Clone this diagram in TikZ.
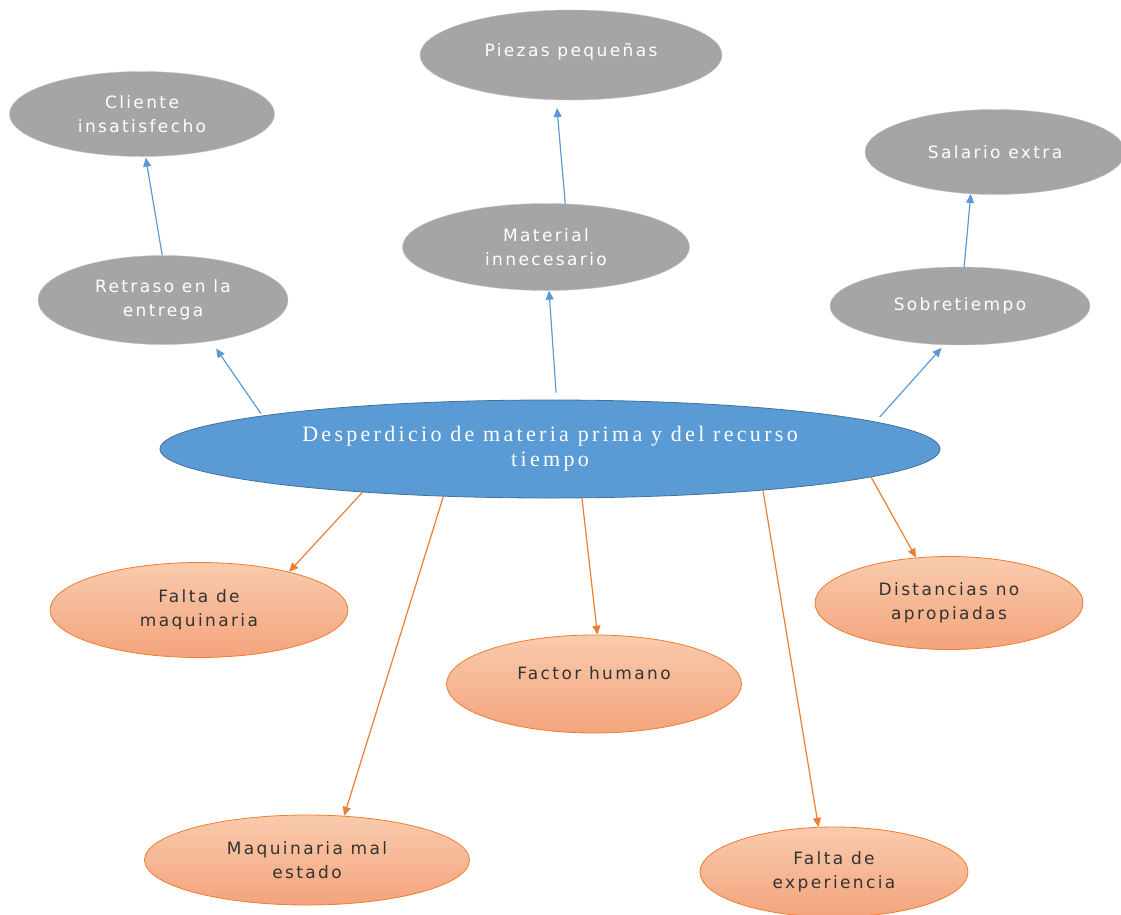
\documentclass[tikz,border=0pt]{standalone}
\usepackage{fontspec}
\setmainfont[LetterSpace=15]{Liberation Serif}
\setsansfont[LetterSpace=14]{DejaVu Sans}
\usetikzlibrary{positioning,arrows.meta,shapes.geometric}
\definecolor{effectgray}{HTML}{A5A5A5}
\definecolor{wasteblue}{HTML}{5B9BD5}
\definecolor{wasteedge}{HTML}{41719C}
\definecolor{causeedge}{HTML}{ED7D31}
\definecolor{causetop}{HTML}{F8CBAD}
\definecolor{causebot}{HTML}{F4A47C}

\begin{document}
\begin{tikzpicture}[
  x=1pt,y=-1pt,
  font=\sffamily\fontsize{17}{24}\selectfont,
  effect/.style={ellipse,draw=effectgray!70!white,fill=effectgray,text=white,
                 align=center,inner sep=0pt},
  cause/.style={ellipse,draw=causeedge,thick,top color=causetop,bottom color=causebot,
                text=black!80,align=center,inner sep=0pt},
  toeffect/.style={-{Triangle[length=9pt,width=8pt]},wasteblue,line width=1.2pt},
  tocause/.style={-{Triangle[length=9pt,width=8pt]},causeedge,line width=1.2pt}
]
\useasboundingbox (0,0) rectangle (1121,914);

% problema central
\node[ellipse,draw=wasteedge,fill=wasteblue,text=white,thick,inner sep=0pt,
      minimum width=780pt,minimum height=98pt,align=center,
      font=\rmfamily\fontsize{22}{25}\selectfont] (waste) at (550,449)
  {Desperdicio de materia prima y del recurso\\tiempo};

% efectos
\node[effect,minimum width=265pt,minimum height=85pt] (client) at (142,114) {Cliente\\insatisfecho};
\node[effect,minimum width=250pt,minimum height=89pt] (delay) at (163,300) {Retraso en la\\entrega};
\node[effect,minimum width=302pt,minimum height=90pt,text depth=10pt] (pieces) at (571,55) {Piezas pequeñas};
\node[effect,minimum width=287pt,minimum height=87pt] (material) at (546,247) {Material\\innecesario};
\node[effect,minimum width=260pt,minimum height=85pt] (salary) at (995,152) {Salario extra};
\node[effect,minimum width=260pt,minimum height=78pt] (overtime) at (960,306) {Sobretiempo};

% causas
\node[cause,minimum width=298pt,minimum height=95pt] (nomachine) at (199,610) {Falta de\\maquinaria};
\node[cause,minimum width=295pt,minimum height=98pt,text depth=22pt] (human) at (594,684) {Factor humano};
\node[cause,minimum width=268pt,minimum height=93pt] (distance) at (949,603) {Distancias no\\apropiadas};
\node[cause,minimum width=325pt,minimum height=90pt] (badmachine) at (307,860) {Maquinaria mal\\estado};
\node[cause,minimum width=268pt,minimum height=90pt] (noexp) at (834,872) {Falta de\\experiencia};

\draw[toeffect] ([shift={(-9,-1)}]waste.173)--([shift={(7,7)}]delay.-42);
\draw[toeffect] ([shift={(0,-7)}]waste.83)--(material.-86);
\draw[toeffect] ([shift={(-12,-8)}]waste.4.5)--([shift={(-2,3)}]overtime.-113);
\draw[toeffect] (delay.91)--([shift={(0,1)}]client.-85);
\draw[toeffect] (material.66)--([shift={(-2,8)}]pieces.-105);
\draw[toeffect] (overtime.84)--(salary.-120);

\draw[tocause] (waste.-167)--(nomachine.23);
\draw[tocause] (waste.-156)--(badmachine.50);
\draw[tocause] (waste.-57)--(human.86);
\draw[tocause] (waste.-11)--(noexp.109);
\draw[tocause] (waste.-5.5)--(distance.126);
\end{tikzpicture}
\end{document}
